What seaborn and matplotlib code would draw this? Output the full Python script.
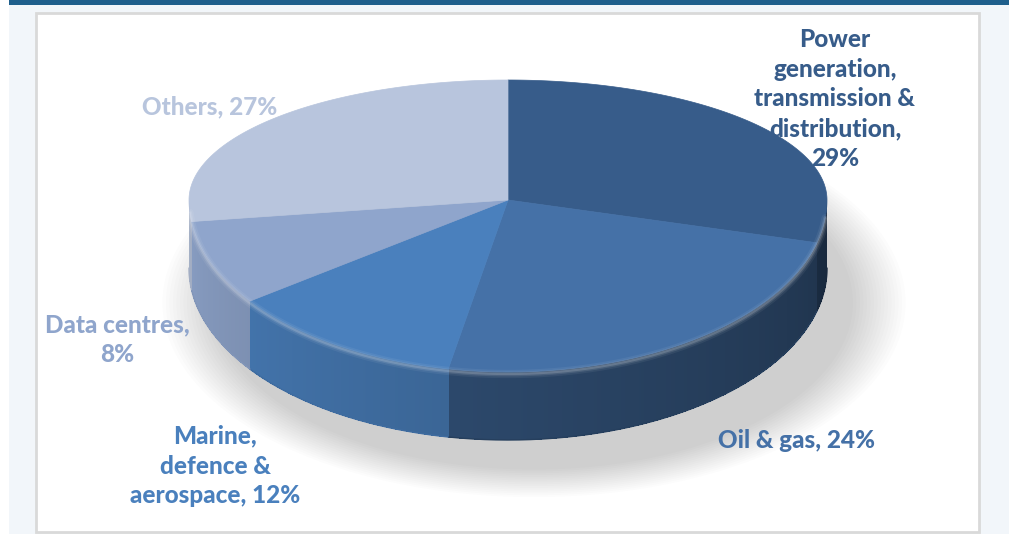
import numpy as np
import matplotlib
matplotlib.use("Agg")
import matplotlib.pyplot as plt
import matplotlib.colors as mcolors
from matplotlib.patches import Rectangle, Polygon, Ellipse
import seaborn as sns

# Market share by end-use segment (%)
segments = ["Power\ngeneration,\ntransmission &\ndistribution,", "Oil & gas,",
            "Marine,\ndefence &\naerospace,", "Data centres,", "Others,"]
shares = [29, 24, 12, 8, 27]
top_colors = ["#375c8a", "#4571a7", "#4a80bd", "#8fa5cc", "#b8c5dd"]
side_gain = [0.84, 0.85, 1.05, 1.02, 0.95]

sns.set_theme(style="white")
plt.rcParams["font.family"] = ["Lato", "DejaVu Sans"]

W, H = 1009, 534
fig = plt.figure(figsize=(W / 100, H / 100), dpi=100)
fig.patch.set_facecolor("#ffffff")
ax = fig.add_axes([0, 0, 1, 1])
ax.set_xlim(0, W)
ax.set_ylim(H, 0)
ax.axis("off")

# page background, header rule and chart panel
ax.add_patch(Rectangle((9, 0), W - 9, H, facecolor="#f2f6fa", edgecolor="none", zorder=0))
ax.add_patch(Rectangle((9, 0), W - 9, 4.5, facecolor="#1f5f8c", edgecolor="none", zorder=1))
ax.add_patch(Rectangle((36, 13), 943, 519, facecolor="#ffffff", edgecolor="#d9d9d9", lw=2, zorder=1))

# 3-D pie geometry (tilted disc: the near half is stretched by perspective)
cx, cy = 508, 200
rx, ry_back, ry_front = 319, 120, 172
depth = 68


def rim(t):
    t = np.asarray(t)
    s = np.sin(t)
    ry = np.where(s > 0, ry_back, ry_front)
    return cx + rx * np.cos(t), cy - ry * s


def shade(color, f):
    r, g, b = mcolors.to_rgb(color)
    return (min(r * f, 1), min(g * f, 1), min(b * f, 1))


# soft shadow under the disc, thrown down and to the right
for k in range(16):
    grow = 1 + k * 0.011
    ax.add_patch(Ellipse((cx + 26, cy + 62 + depth * 0.6), 2 * rx * grow, 2 * (ry_front * 0.97) * grow,
                         facecolor="#000000", alpha=0.011, edgecolor="none", zorder=2))

total = float(sum(shares))
bounds = [np.pi / 2]
for v in shares:
    bounds.append(bounds[-1] - 2 * np.pi * v / total)


def light(t):
    u = -t / np.pi
    return 0.52 + 0.42 * u


# side walls, only where the rim faces the viewer
for (a0, a1), col, gain in zip(zip(bounds[:-1], bounds[1:]), top_colors, side_gain):
    spans = []
    for off in (0.0, 2 * np.pi):
        lo, hi = max(a1 + off, -np.pi), min(a0 + off, 0.0)
        if lo < hi:
            spans.append((lo, hi))
    for lo, hi in spans:
        ts = np.linspace(hi, lo, max(int((hi - lo) / 0.006), 2))
        x, y = rim(ts)
        outline = list(zip(x, y)) + list(zip(x[::-1], y[::-1] + depth))
        mid_f = light(0.5 * (lo + hi)) * gain
        ax.add_patch(Polygon(outline, closed=True, facecolor=shade(col, mid_f),
                             edgecolor="none", zorder=3))
        for i in range(len(ts) - 1):
            f = light(0.5 * (ts[i] + ts[i + 1])) * gain
            poly = [(x[i], y[i]), (x[i + 1], y[i + 1]), (x[i + 1], y[i + 1] + depth), (x[i], y[i] + depth)]
            ax.add_patch(Polygon(poly, closed=True, facecolor=shade(col, f), edgecolor="none",
                                 antialiased=False, zorder=3.2))
        ax.plot(x, y + depth, color=shade(col, mid_f), lw=1.0, zorder=3.3)

# top faces
for (a0, a1), col in zip(zip(bounds[:-1], bounds[1:]), top_colors):
    ts = np.linspace(a0, a1, 200)
    x, y = rim(ts)
    pts = [(cx, cy)] + list(zip(x, y))
    ax.add_patch(Polygon(pts, closed=True, facecolor=col, edgecolor=col, lw=0.5, zorder=4))

# bevel highlight along the near edge of the top
tt = np.linspace(-np.pi * 0.98, -np.pi * 0.03, 300)
xh, yh = rim(tt)
for lw, a in [(6, 0.06), (3.5, 0.10), (1.6, 0.16)]:
    ax.plot(xh, yh + 2, color="white", lw=lw, alpha=a, zorder=5, solid_capstyle="round")

# slice labels
separators = ["\n", " ", " ", "\n", " "]
label_pos = [(835, 99), (797, 440), (215, 466), (117, 340), (210, 107)]
for name, sep, v, col, (lx, ly) in zip(segments, separators, shares, top_colors, label_pos):
    ax.text(lx, ly, f"{name}{sep}{v}%", ha="center", va="center", color=col,
            fontsize=17.5, fontweight="black", linespacing=1.36, zorder=6)

fig.savefig("out.png", dpi=100, facecolor=fig.get_facecolor())
